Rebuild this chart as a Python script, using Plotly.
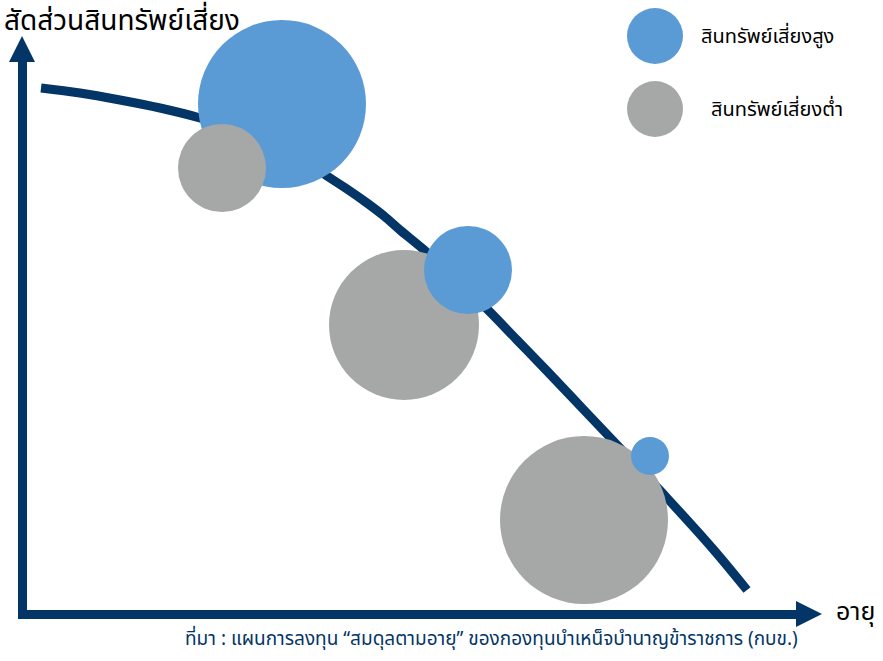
import plotly.graph_objects as go

# Conceptual chart: share of risky assets vs age (abstract units)
curve_age = [41, 80, 120, 160, 200, 231, 262, 295, 327, 347, 367, 384, 400, 423, 455, 487, 517, 547, 583, 620, 667, 713, 747]
curve_share = [573, 568, 561, 553, 543, 532, 521, 506, 485, 472, 458, 445, 431, 412, 382, 352, 321, 290, 252, 213, 163, 112, 71]

bubble_age = [282, 222, 404, 468, 584, 650]
bubble_share = [557, 493, 336, 391, 141, 205]
bubble_size = [168, 88, 150, 88, 168, 38]
bubble_kind = ["high", "low", "low", "high", "low", "high"]

kind_labels = {"high": "สินทรัพย์เสี่ยงสูง", "low": "สินทรัพย์เสี่ยงต่ำ"}
kind_colors = {"high": "#5b9bd5", "low": "#a5a8a6"}

NAVY = "#033667"
FONT = "Noto Sans Thai, Noto Sans, Loma, sans-serif"

fig = go.Figure()
fig.add_trace(go.Scatter(
    x=curve_age, y=curve_share, mode="lines",
    line=dict(color=NAVY, width=9, shape="spline", smoothing=1.0),
    hoverinfo="skip", showlegend=False))
fig.add_trace(go.Scatter(
    x=bubble_age, y=bubble_share, mode="markers",
    marker=dict(size=bubble_size, sizemode="diameter", sizeref=1,
                color=[kind_colors[k] for k in bubble_kind],
                line=dict(width=0), opacity=1),
    text=[kind_labels[k] for k in bubble_kind],
    hoverinfo="text", showlegend=False))

shapes = [
    # y-axis arrow
    dict(type="line", x0=22.5, y0=44, x1=22.5, y1=605, line=dict(color=NAVY, width=9)),
    dict(type="path", path="M 9 599 L 35 599 L 22 625 Z", fillcolor=NAVY, line=dict(width=0)),
    # x-axis arrow
    dict(type="line", x0=18, y0=46.5, x1=800, y1=46.5, line=dict(color=NAVY, width=9)),
    dict(type="path", path="M 796 60 L 796 34 L 822 47 Z", fillcolor=NAVY, line=dict(width=0)),
    # legend circles
    dict(type="circle", x0=627, x1=683, y0=597, y1=653, fillcolor=kind_colors["high"], line=dict(width=0)),
    dict(type="circle", x0=627, x1=683, y0=524, y1=580, fillcolor=kind_colors["low"], line=dict(width=0)),
]

annotations = [
    dict(x=2, y=640, text="สัดส่วนสินทรัพย์เสี่ยง", showarrow=False, xanchor="left", yanchor="middle",
         font=dict(family=FONT, size=28, color="#000000")),
    dict(x=834, y=49, text="อายุ", showarrow=False, xanchor="left", yanchor="middle",
         font=dict(family=FONT, size=25, color="#000000")),
    dict(x=699, y=624, text=kind_labels["high"], showarrow=False, xanchor="left", yanchor="middle",
         font=dict(family=FONT, size=20, color="#000000")),
    dict(x=709, y=551, text=kind_labels["low"], showarrow=False, xanchor="left", yanchor="middle",
         font=dict(family=FONT, size=20, color="#000000")),
    dict(x=491, y=22, text="ที่มา : แผนการลงทุน “สมดุลตามอายุ” ของกองทุนบำเหน็จบำนาญข้าราชการ (กบข.)",
         showarrow=False, xanchor="center", yanchor="middle",
         font=dict(family=FONT, size=19, color=NAVY)),
]

fig.update_layout(
    width=883, height=661,
    margin=dict(l=0, r=0, t=0, b=0),
    paper_bgcolor="white", plot_bgcolor="white",
    xaxis=dict(range=[0, 883], visible=False, fixedrange=True),
    yaxis=dict(range=[0, 661], visible=False, fixedrange=True),
    shapes=shapes, annotations=annotations,
    showlegend=False,
)

fig.write_html("out.html", config={"displayModeBar": False},
               post_script="document.body.style.margin='0px';document.body.style.overflow='hidden';")
